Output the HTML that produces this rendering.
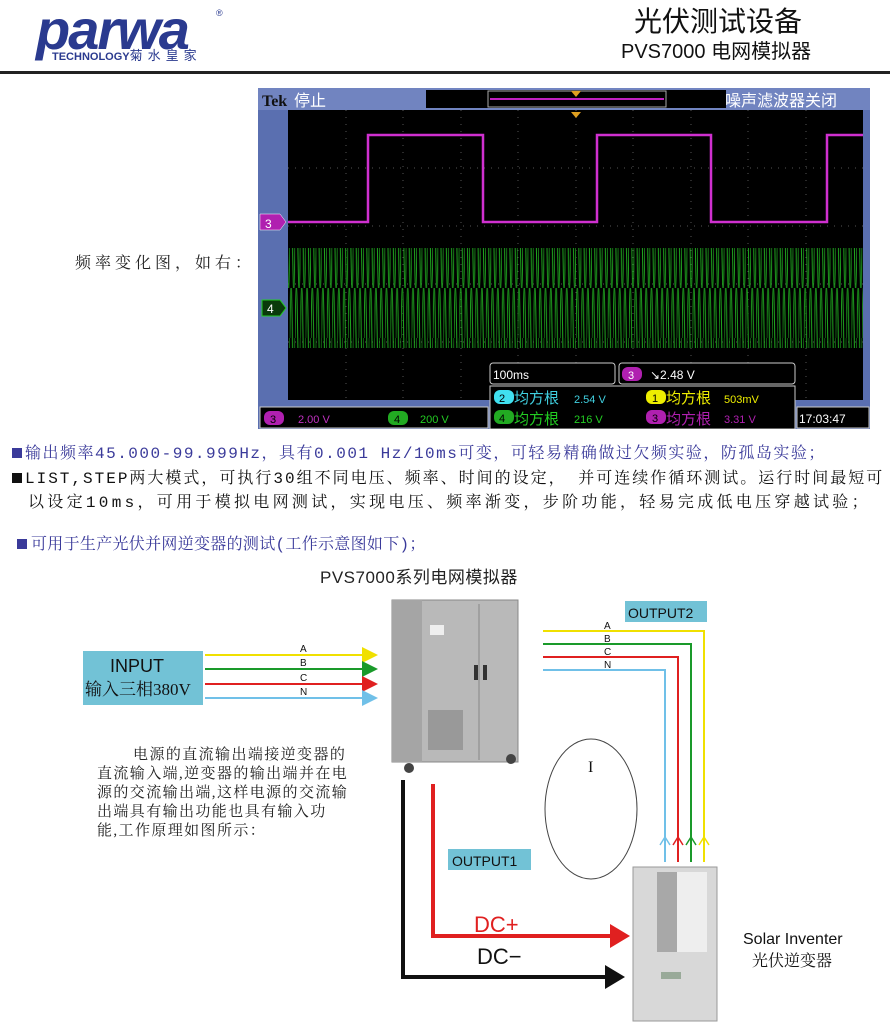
<!DOCTYPE html>
<html><head><meta charset="utf-8"><style>
body{margin:0;width:890px;height:1024px;background:#fff;position:relative;overflow:hidden;font-family:"Liberation Serif","Noto Serif CJK SC",serif}
.a{position:absolute;white-space:nowrap}
.s{font-family:"Liberation Sans","Noto Sans CJK SC",sans-serif}
.m{font-family:"Liberation Mono","Noto Serif CJK SC",monospace;font-size:16px}
</style></head><body>
<!-- header -->
<div class="a s" style="left:36px;top:2px;font-size:56px;font-weight:bold;font-style:italic;color:#2a3a8f;letter-spacing:-2px;line-height:56px">parwa</div>
<div class="a s" style="left:216px;top:8px;font-size:9px;color:#2a3a8f">®</div>
<div class="a s" style="left:52px;top:45px;font-size:11px;font-weight:bold;color:#2a3a8f">TECHNOLOGY<span style="font-weight:normal;font-size:13px;letter-spacing:5px">菊水皇家</span></div>
<div class="a s" style="left:634px;top:0px;font-size:28px;color:#111">光伏测试设备</div>
<div class="a s" style="left:621px;top:35px;font-size:20px;color:#111">PVS7000 电网模拟器</div>
<div class="a" style="left:0;top:71px;width:890px;height:3px;background:#222"></div>

<div class="a" style="left:75px;top:250px;font-size:16px;color:#222;letter-spacing:4px">频率变化图，如右：</div>

<!-- scope -->
<svg class="a" style="left:258px;top:88px" width="612" height="341" viewBox="0 0 612 341">
<defs>
<pattern id="sin" width="5.3" height="100" patternUnits="userSpaceOnUse">
<path d="M0 50 C1 -20 1.6 -20 2.65 50 S4.3 120 5.3 50" stroke="#1fa51f" stroke-width="1" fill="none"/>
</pattern>
</defs>
<rect width="612" height="341" fill="#5a6fb0"/>
<rect x="0" y="0" width="612" height="22" fill="#7184c0"/>
<text x="4" y="18" font-size="16" font-family="Liberation Serif" font-weight="bold" fill="#111">Tek</text>
<text x="36" y="18" font-size="16" font-family="Noto Sans CJK SC" fill="#fff">停止</text>
<rect x="168" y="2" width="300" height="18" fill="#000"/>
<rect x="230" y="3" width="178" height="16" fill="none" stroke="#aaa"/>
<line x1="232" y1="11" x2="406" y2="11" stroke="#c020c0" stroke-width="2"/>
<polygon points="313,3 323,3 318,9" fill="#e0a020"/>
<text x="467" y="18" font-size="16" font-family="Noto Sans CJK SC" fill="#fff">噪声滤波器关闭</text>
<rect x="30" y="22" width="575" height="290" fill="#000"/>
<g stroke="#555" stroke-dasharray="1 6">
<line x1="30" y1="80" x2="605" y2="80"/><line x1="30" y1="138" x2="605" y2="138"/><line x1="30" y1="196" x2="605" y2="196"/><line x1="30" y1="254" x2="605" y2="254"/>
<line x1="88" y1="22" x2="88" y2="312"/><line x1="145" y1="22" x2="145" y2="312"/><line x1="203" y1="22" x2="203" y2="312"/><line x1="260" y1="22" x2="260" y2="312"/><line x1="318" y1="22" x2="318" y2="312"/><line x1="375" y1="22" x2="375" y2="312"/><line x1="433" y1="22" x2="433" y2="312"/><line x1="490" y1="22" x2="490" y2="312"/><line x1="548" y1="22" x2="548" y2="312"/>
</g>
<polygon points="313,24 323,24 318,30" fill="#e0a020"/>
<path d="M30 134 H110 V47 H225 V134 H339 V47 H453 V134 H569 V47 H605" stroke="#d030d0" stroke-width="2.5" fill="none"/>
<rect x="30" y="160" width="575" height="100" fill="url(#sin)"/>
<polygon points="2,126 22,126 28,134 22,142 2,142" fill="#b020b0" stroke="#fff" stroke-width="0.5"/>
<text x="7" y="140" font-size="12" font-family="Liberation Sans" fill="#fff">3</text>
<polygon points="4,212 22,212 28,220 22,228 4,228" fill="#0a3a0a" stroke="#2c2" stroke-width="1"/>
<text x="9" y="225" font-size="12" font-family="Liberation Sans" fill="#fff">4</text>
<rect x="232" y="275" width="125" height="21" rx="3" fill="#000" stroke="#ccc"/>
<text x="235" y="291" font-size="12" font-family="Liberation Sans" fill="#fff">100ms</text>
<rect x="361" y="275" width="176" height="21" rx="3" fill="#000" stroke="#ccc"/>
<rect x="364" y="279" width="20" height="14" rx="6" fill="#b020b0"/><text x="370" y="291" font-size="11" fill="#fff" font-family="Liberation Sans">3</text>
<text x="392" y="291" font-size="12" font-family="Liberation Sans" fill="#fff">↘2.48 V</text>
<rect x="232" y="298" width="305" height="43" fill="#000" stroke="#ccc"/>
<rect x="236" y="302" width="20" height="14" rx="6" fill="#40e0f0"/><text x="241" y="314" font-size="11" fill="#000" font-family="Liberation Sans">2</text>
<text x="256" y="315" font-size="15" font-family="Noto Sans CJK SC" fill="#40d0e0">均方根</text><text x="316" y="315" font-size="11" fill="#40d0e0" font-family="Liberation Sans">2.54 V</text>
<rect x="236" y="322" width="20" height="14" rx="6" fill="#2a2"/><text x="241" y="334" font-size="11" fill="#000" font-family="Liberation Sans">4</text>
<text x="256" y="336" font-size="15" font-family="Noto Sans CJK SC" fill="#2c2">均方根</text><text x="316" y="335" font-size="11" fill="#2c2" font-family="Liberation Sans">216 V</text>
<rect x="388" y="302" width="20" height="14" rx="6" fill="#ee0"/><text x="394" y="314" font-size="11" fill="#000" font-family="Liberation Sans">1</text>
<text x="408" y="315" font-size="15" font-family="Noto Sans CJK SC" fill="#ee0">均方根</text><text x="466" y="315" font-size="11" fill="#ee0" font-family="Liberation Sans">503mV</text>
<rect x="388" y="322" width="20" height="14" rx="6" fill="#b020b0"/><text x="394" y="334" font-size="11" fill="#000" font-family="Liberation Sans">3</text>
<text x="408" y="336" font-size="15" font-family="Noto Sans CJK SC" fill="#b020b0">均方根</text><text x="466" y="335" font-size="11" fill="#b020b0" font-family="Liberation Sans">3.31 V</text>
<rect x="2" y="319" width="228" height="21" fill="#000" stroke="#ccc"/>
<rect x="6" y="323" width="20" height="14" rx="6" fill="#b020b0"/><text x="12" y="335" font-size="11" fill="#000" font-family="Liberation Sans">3</text>
<text x="40" y="335" font-size="11" fill="#c030c0" font-family="Liberation Sans">2.00 V</text>
<rect x="130" y="323" width="20" height="14" rx="6" fill="#2a2"/><text x="136" y="335" font-size="11" fill="#000" font-family="Liberation Sans">4</text>
<text x="162" y="335" font-size="11" fill="#2c2" font-family="Liberation Sans">200 V</text>
<rect x="539" y="319" width="72" height="21" fill="#000" stroke="#ccc"/>
<text x="541" y="335" font-size="12" fill="#fff" font-family="Liberation Sans">17:03:47</text>
</svg>

<!-- text -->
<div class="a m" style="left:12px;top:440px;color:#3a3a9a;letter-spacing:1.5px"><span style="display:inline-block;width:10px;height:10px;background:#3a3a9a;margin-right:3px"></span>输出频率45.000-99.999Hz，具有0.001 Hz/10ms可变，可轻易精确做过欠频实验，防孤岛实验；</div>
<div class="a m" style="left:12px;top:465px;color:#111;letter-spacing:2px"><span style="display:inline-block;width:10px;height:10px;background:#111;margin-right:3px"></span>LIST,STEP两大模式，可执行30组不同电压、频率、时间的设定， 并可连续作循环测试。运行时间最短可</div>
<div class="a m" style="left:28px;top:489px;color:#111;letter-spacing:3.3px">以设定10ms，可用于模拟电网测试，实现电压、频率渐变，步阶功能，轻易完成低电压穿越试验；</div>
<div class="a m" style="left:17px;top:531px;color:#3a3a9a;letter-spacing:0.3px"><span style="display:inline-block;width:10px;height:10px;background:#3a3a9a;margin-right:4px"></span>可用于生产光伏并网逆变器的测试(工作示意图如下)；</div>
<div class="a s" style="left:320px;top:563px;font-size:17px;color:#222;letter-spacing:0.5px">PVS7000系列电网模拟器</div>

<!-- diagram -->
<svg class="a" style="left:0;top:590px" width="890" height="434" viewBox="0 590 890 434">
<defs>
<marker id="ay" markerWidth="8" markerHeight="8" refX="7" refY="4" orient="auto"><path d="M0 0L8 4L0 8z" fill="#f0e000"/></marker>
<marker id="ag" markerWidth="8" markerHeight="8" refX="7" refY="4" orient="auto"><path d="M0 0L8 4L0 8z" fill="#1a9a2a"/></marker>
<marker id="ar" markerWidth="8" markerHeight="8" refX="7" refY="4" orient="auto"><path d="M0 0L8 4L0 8z" fill="#e02020"/></marker>
<marker id="ac" markerWidth="8" markerHeight="8" refX="7" refY="4" orient="auto"><path d="M0 0L8 4L0 8z" fill="#70c0e8"/></marker>
</defs>
<rect x="83" y="651" width="120" height="54" fill="#72c2d6"/>
<text x="110" y="672" font-size="18" font-family="Liberation Sans" fill="#111">INPUT</text>
<text x="85" y="695" font-size="17" font-family="Liberation Serif,Noto Serif CJK SC" fill="#111">输入三相380V</text>
<line x1="205" y1="655" x2="376" y2="655" stroke="#f0e000" stroke-width="2" marker-end="url(#ay)"/>
<line x1="205" y1="669" x2="376" y2="669" stroke="#1a9a2a" stroke-width="2" marker-end="url(#ag)"/>
<line x1="205" y1="684" x2="376" y2="684" stroke="#e02020" stroke-width="2" marker-end="url(#ar)"/>
<line x1="205" y1="698" x2="376" y2="698" stroke="#70c0e8" stroke-width="2" marker-end="url(#ac)"/>
<g font-size="10" font-family="Liberation Sans" fill="#111"><text x="300" y="652">A</text><text x="300" y="666">B</text><text x="300" y="681">C</text><text x="300" y="695">N</text></g>
<!-- cabinet -->
<rect x="392" y="600" width="126" height="162" fill="#b9b9b9" stroke="#888"/>
<rect x="392" y="600" width="30" height="162" fill="#a5a5a5"/>
<line x1="479" y1="604" x2="479" y2="760" stroke="#888"/>
<rect x="430" y="625" width="14" height="10" fill="#eee"/>
<rect x="428" y="710" width="35" height="40" fill="#999"/>
<circle cx="409" cy="768" r="5" fill="#444"/><circle cx="511" cy="759" r="5" fill="#444"/>
<rect x="474" y="665" width="4" height="15" fill="#333"/><rect x="483" y="665" width="4" height="15" fill="#333"/>
<!-- output2 -->
<rect x="625" y="601" width="82" height="21" fill="#72c2d6"/>
<text x="628" y="618" font-size="14" font-family="Liberation Sans" fill="#111">OUTPUT2</text>
<g font-size="10" font-family="Liberation Sans" fill="#111"><text x="604" y="629">A</text><text x="604" y="642">B</text><text x="604" y="655">C</text><text x="604" y="668">N</text></g>
<path d="M543 631H704V862" stroke="#f0e000" stroke-width="2" fill="none"/>
<path d="M543 644H691V862" stroke="#1a9a2a" stroke-width="2" fill="none"/>
<path d="M543 657H678V862" stroke="#e02020" stroke-width="2" fill="none"/>
<path d="M543 670H665V862" stroke="#70c0e8" stroke-width="2" fill="none"/>
<path d="M699 845L704 837L709 845" fill="none" stroke="#f0e000" stroke-width="1.5"/>
<path d="M686 845L691 837L696 845" fill="none" stroke="#1a9a2a" stroke-width="1.5"/>
<path d="M673 845L678 837L683 845" fill="none" stroke="#e02020" stroke-width="1.5"/>
<path d="M660 845L665 837L670 845" fill="none" stroke="#70c0e8" stroke-width="1.5"/>
<ellipse cx="591" cy="809" rx="46" ry="70" fill="none" stroke="#444"/>
<text x="588" y="772" font-size="16" font-family="Liberation Serif" fill="#111">I</text>
<!-- DC lines -->
<path d="M403 780V977H612" stroke="#111" stroke-width="4" fill="none"/>
<polygon points="605,965 625,977 605,989" fill="#111"/>
<path d="M433 784V936H615" stroke="#e02020" stroke-width="4" fill="none"/>
<polygon points="610,924 630,936 610,948" fill="#e02020"/>
<rect x="448" y="849" width="83" height="21" fill="#72c2d6"/>
<text x="452" y="866" font-size="14" font-family="Liberation Sans" fill="#111">OUTPUT1</text>
<text x="474" y="932" font-size="22" font-family="Liberation Sans" fill="#e02020">DC+</text>
<text x="477" y="964" font-size="22" font-family="Liberation Sans" fill="#111">DC−</text>
<!-- inverter -->
<rect x="633" y="867" width="84" height="154" fill="#d8d8d8" stroke="#999"/>
<rect x="657" y="872" width="20" height="80" fill="#a8a8a8"/>
<rect x="677" y="872" width="30" height="80" fill="#eee"/>
<rect x="661" y="972" width="20" height="7" fill="#9a9"/>
<text x="743" y="944" font-size="16" font-family="Liberation Sans" fill="#111">Solar Inventer</text>
<text x="752" y="966" font-size="16" font-family="Liberation Serif,Noto Serif CJK SC" fill="#111">光伏逆变器</text>
</svg>
<div class="a" style="left:97px;top:746px;font-size:15px;line-height:19px;color:#222;letter-spacing:1.4px">&nbsp;&nbsp;&nbsp;&nbsp;&nbsp;&nbsp;&nbsp;电源的直流输出端接逆变器的<br>直流输入端,逆变器的输出端并在电<br>源的交流输出端,这样电源的交流输<br>出端具有输出功能也具有输入功<br>能,工作原理如图所示：</div>
</body></html>
